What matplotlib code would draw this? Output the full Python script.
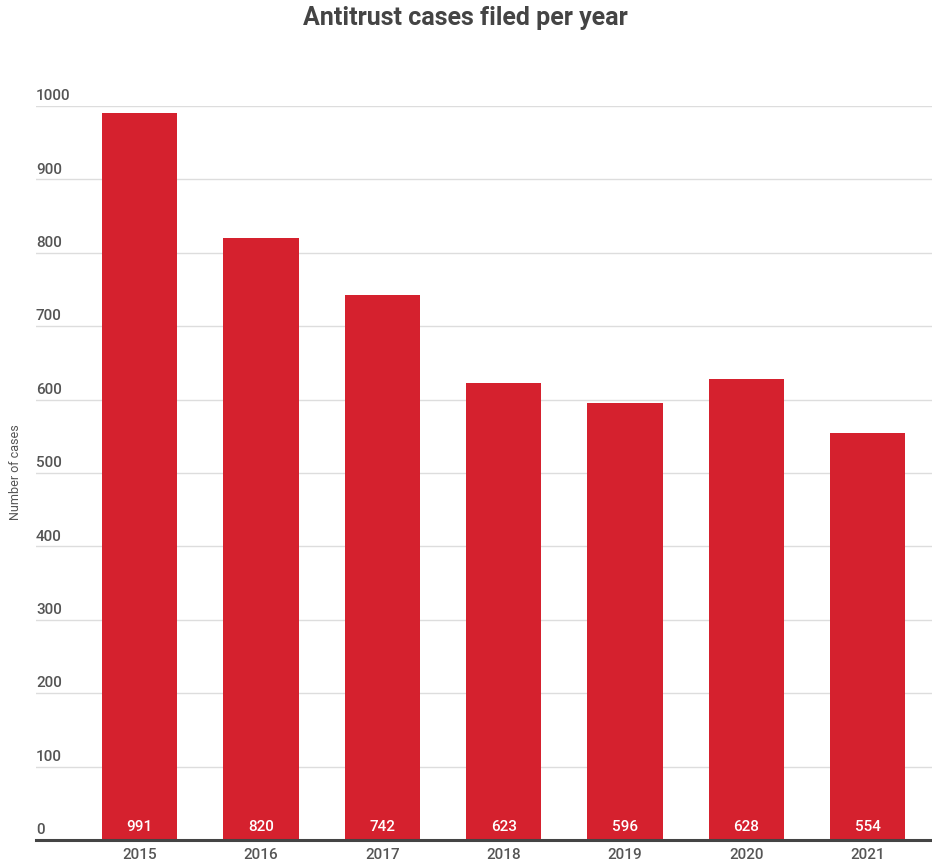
import matplotlib.pyplot as plt
import matplotlib.transforms as mtransforms
import numpy as np

# Data
years = ['2015', '2016', '2017', '2018', '2019', '2020', '2021']
cases = [991, 820, 742, 623, 596, 628, 554]
y_ticks = [0, 100, 200, 300, 400, 500, 600, 700, 800, 900, 1000]

bar_color = '#d5212e'
text_color = '#555555'

plt.rcParams['font.family'] = ['Roboto', 'DejaVu Sans']

fig = plt.figure(figsize=(9.32, 8.66), dpi=100)
ax = fig.add_axes([36 / 932, 26 / 866, 1 - 36 / 932, 734 / 866])

x = np.arange(len(years))
ax.bar(x, cases, width=0.62, color=bar_color, zorder=2)

ax.set_xlim(-0.855, 6.53)
ax.set_ylim(0, 1000)

# grid lines and labels above them
trans = mtransforms.blended_transform_factory(ax.transAxes, ax.transData)
for v in y_ticks:
    if v > 0:
        ax.axhline(v, color='#dddddd', lw=1, zorder=1)
    ax.text(0.0, v + 8, str(v), transform=trans, ha='left', va='baseline',
            fontsize=11, fontweight='medium', color=text_color)
ax.axhline(0, color='#444444', lw=2.2, zorder=3, clip_on=False)

# value labels inside bars
for xi, c in zip(x, cases):
    ax.text(xi, 8, str(c), ha='center', va='bottom', fontsize=11,
            fontweight='medium', color='white', zorder=4)

ax.set_xticks(x)
ax.set_xticklabels(years, fontsize=11, fontweight='medium', color=text_color)
ax.tick_params(axis='x', length=0, pad=6)
ax.set_yticks([])
for s in ax.spines.values():
    s.set_visible(False)

fig.text(16 / 932, 1 - 472 / 866, 'Number of cases', rotation=90,
         ha='center', va='center', fontsize=9, color=text_color)
fig.text(465 / 932, 1 - 18 / 866, 'Antitrust cases filed per year',
         ha='center', va='center', fontsize=18, fontweight='bold',
         color='#444444')

fig.savefig('out.png', dpi=100)
